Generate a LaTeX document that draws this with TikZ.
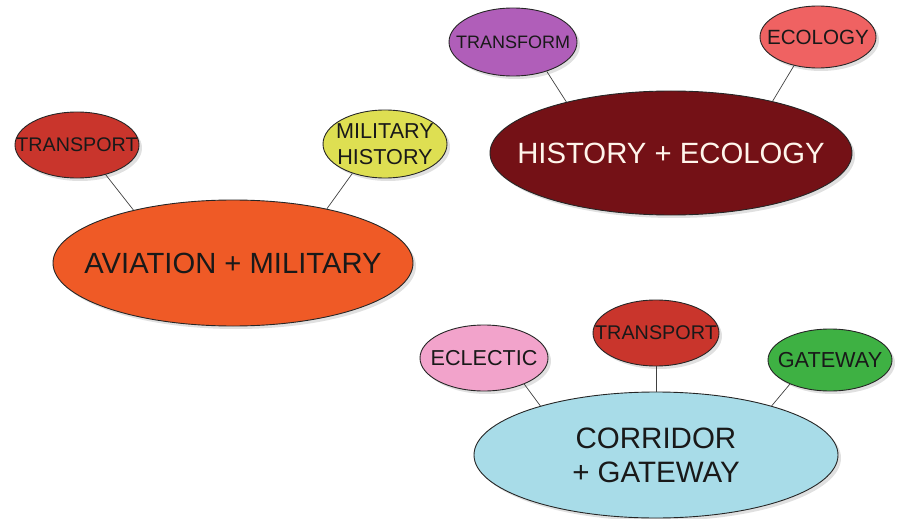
\documentclass[tikz,border=0pt]{standalone}
\usepackage{fontspec}
\setmainfont{Liberation Sans}
\usetikzlibrary{shapes.geometric,shadows}
\definecolor{cAvi}{HTML}{EF5A26}
\definecolor{cTrans}{HTML}{C9352C}
\definecolor{cMil}{HTML}{DEDF52}
\definecolor{cHist}{HTML}{741116}
\definecolor{cForm}{HTML}{B05EB9}
\definecolor{cEco}{HTML}{EF6262}
\definecolor{cCorr}{HTML}{A8DCE8}
\definecolor{cEcl}{HTML}{F2A3CB}
\definecolor{cGate}{HTML}{3EB143}
\tikzset{
  bub/.style={ellipse, draw=black!85, line width=0.9pt, inner sep=0pt,
    drop shadow={shadow xshift=3pt, shadow yshift=-3pt, opacity=0.3, fill=black!40}},
  lab/.style={align=center, text=black!90, inner sep=0pt},
  link/.style={draw=black!75, line width=0.7pt},
}
\begin{document}
\begin{tikzpicture}[x=1pt,y=-1pt]
\useasboundingbox (0,0) rectangle (903,519);
% main ellipses
\node[bub, fill=cAvi, minimum width=360pt, minimum height=126pt,
  label={[lab, font=\fontsize{29.2}{34}\selectfont]center:AVIATION + MILITARY}] (avi) at (233,263) {};
\node[bub, fill=cHist, minimum width=362pt, minimum height=124pt,
  label={[lab, text=white!92!orange, font=\fontsize{29.3}{34}\selectfont]center:HISTORY + ECOLOGY}] (hist) at (671,153) {};
\node[bub, fill=cCorr, minimum width=364pt, minimum height=126pt,
  label={[lab, font=\fontsize{29.5}{34}\selectfont]center:CORRIDOR\\+ GATEWAY}] (corr) at (656,455) {};
% satellites
\node[bub, fill=cTrans, minimum width=124pt, minimum height=66pt,
  label={[lab, font=\fontsize{19.7}{24}\selectfont]center:TRANSPORT}] (t1) at (77,145) {};
\node[bub, fill=cMil, minimum width=124pt, minimum height=68pt,
  label={[lab, font=\fontsize{21.6}{26}\selectfont]center:MILITARY\\HISTORY}] (mil) at (385,144) {};
\node[bub, fill=cForm, minimum width=128pt, minimum height=68pt,
  label={[lab, font=\fontsize{18}{22}\selectfont]center:TRANSFORM}] (form) at (513,42) {};
\node[bub, fill=cEco, minimum width=116pt, minimum height=62pt,
  label={[lab, font=\fontsize{20.6}{24}\selectfont]center:ECOLOGY}] (eco) at (818,37) {};
\node[bub, fill=cEcl, minimum width=128pt, minimum height=66pt,
  label={[lab, font=\fontsize{21.6}{24}\selectfont]center:ECLECTIC}] (ecl) at (484,358) {};
\node[bub, fill=cTrans, minimum width=126pt, minimum height=66pt,
  label={[lab, font=\fontsize{19.8}{24}\selectfont]center:TRANSPORT}] (t2) at (656,333) {};
\node[bub, fill=cGate, minimum width=124pt, minimum height=62pt,
  label={[lab, font=\fontsize{21.7}{24}\selectfont]center:GATEWAY}] (gate) at (830,360) {};
% connectors
\draw[link] (t1.-46) -- (avi.152);
\draw[link] (mil.-138) -- (avi.30);
\draw[link] (form.-41) -- (hist.154);
\draw[link] (eco.-130) -- (hist.27);
\draw[link] (ecl.-33) -- (corr.157);
\draw[link] (t2.-90) -- (corr.90);
\draw[link] (gate.-149) -- (corr.23);
\end{tikzpicture}
\end{document}
